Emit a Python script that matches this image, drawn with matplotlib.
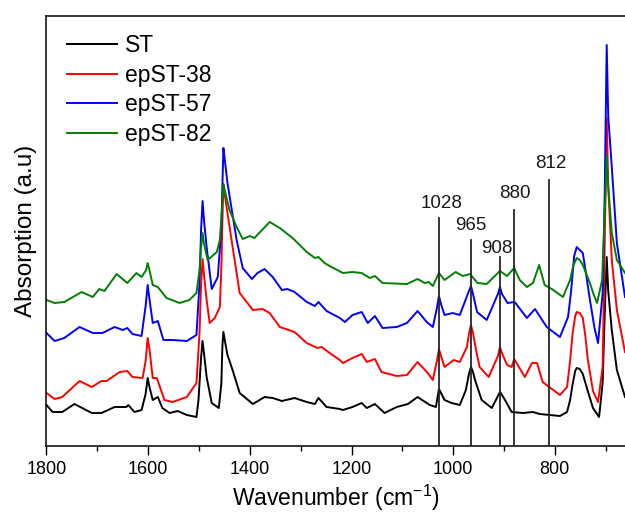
import matplotlib
matplotlib.use("Agg")
import matplotlib.pyplot as plt
from matplotlib.ticker import MultipleLocator

plt.rcParams['font.family'] = ['Liberation Sans', 'DejaVu Sans']
plt.rcParams['mathtext.fontset'] = 'custom'
plt.rcParams['mathtext.rm'] = 'Liberation Sans'
plt.rcParams['mathtext.it'] = 'Liberation Sans:italic'

# ---- data: (wavenumber cm-1, absorption a.u.) ----
st = [(1800, 0.41), (1788, 0.34), (1769, 0.34), (1745, 0.42), (1711, 0.33), (1692, 0.33), (1666, 0.39),
      (1643, 0.39), (1639, 0.41), (1627, 0.34), (1613, 0.36), (1605, 0.52), (1601, 0.68), (1597, 0.58),
      (1591, 0.46), (1581, 0.49), (1572, 0.38), (1558, 0.33), (1542, 0.35), (1524, 0.31), (1505, 0.29),
      (1501, 0.46), (1496, 0.88), (1493, 1.05), (1490, 0.92), (1485, 0.69), (1475, 0.43), (1461, 0.38),
      (1456, 0.63), (1454, 1.00), (1452, 1.14), (1449, 1.05), (1444, 0.91), (1434, 0.76), (1420, 0.53),
      (1394, 0.42), (1371, 0.49), (1355, 0.48), (1337, 0.45), (1312, 0.48), (1288, 0.44), (1272, 0.42),
      (1265, 0.48), (1249, 0.39), (1223, 0.37), (1217, 0.36), (1198, 0.39), (1180, 0.43), (1170, 0.38),
      (1154, 0.42), (1135, 0.33), (1111, 0.39), (1089, 0.42), (1070, 0.49), (1046, 0.41), (1034, 0.39),
      (1028, 0.57), (1017, 0.46), (1003, 0.43), (987, 0.41), (975, 0.56), (969, 0.72), (965, 0.79),
      (961, 0.74), (957, 0.66), (944, 0.46), (924, 0.38), (912, 0.50), (908, 0.54), (904, 0.51),
      (898, 0.46), (885, 0.34), (863, 0.33), (843, 0.34), (830, 0.32), (790, 0.30), (776, 0.34),
      (770, 0.46), (765, 0.62), (760, 0.75), (757, 0.78), (751, 0.77), (745, 0.72), (737, 0.58),
      (725, 0.38), (713, 0.29), (706, 0.63), (702, 1.30), (698, 1.89), (695, 1.55), (688, 1.16),
      (678, 0.76), (662, 0.49)]

ep38 = [(1800, 0.53), (1784, 0.47), (1769, 0.49), (1735, 0.65), (1711, 0.59), (1692, 0.65), (1682, 0.65),
        (1656, 0.74), (1641, 0.75), (1631, 0.69), (1611, 0.68), (1605, 0.85), (1601, 1.08), (1597, 0.95),
        (1591, 0.68), (1583, 0.68), (1568, 0.46), (1552, 0.44), (1524, 0.49), (1505, 0.63), (1499, 1.13),
        (1496, 1.60), (1493, 1.87), (1490, 1.70), (1485, 1.46), (1479, 1.23), (1469, 1.28), (1459, 1.39),
        (1456, 1.79), (1454, 2.25), (1452, 2.62), (1449, 2.50), (1444, 2.33), (1430, 1.86), (1420, 1.53),
        (1394, 1.36), (1375, 1.37), (1361, 1.33), (1341, 1.19), (1312, 1.14), (1288, 1.03), (1267, 0.98),
        (1259, 0.99), (1243, 0.93), (1223, 0.86), (1217, 0.83), (1198, 0.88), (1180, 0.92), (1170, 0.84),
        (1154, 0.87), (1141, 0.74), (1111, 0.70), (1091, 0.71), (1070, 0.84), (1050, 0.73), (1040, 0.66),
        (1032, 0.85), (1028, 0.97), (1024, 0.90), (1017, 0.79), (999, 0.86), (987, 0.84), (973, 0.99),
        (969, 1.12), (965, 1.21), (961, 1.13), (955, 0.96), (948, 0.79), (930, 0.69), (912, 0.90),
        (908, 0.99), (904, 0.93), (894, 0.81), (885, 0.79), (880, 0.87), (859, 0.69), (845, 0.83),
        (835, 0.83), (824, 0.64), (790, 0.51), (776, 0.59), (770, 0.85), (765, 1.13), (760, 1.30),
        (757, 1.34), (751, 1.33), (745, 1.28), (740, 1.10), (735, 0.86), (725, 0.55), (715, 0.44),
        (706, 0.79), (702, 2.00), (698, 3.28), (695, 2.60), (688, 1.86), (678, 1.36), (662, 0.94)]

ep57 = [(1800, 1.13), (1784, 1.05), (1765, 1.08), (1735, 1.19), (1709, 1.13), (1690, 1.13), (1666, 1.19),
        (1650, 1.16), (1641, 1.18), (1631, 1.12), (1613, 1.10), (1605, 1.40), (1601, 1.61), (1597, 1.45),
        (1591, 1.23), (1581, 1.25), (1570, 1.06), (1552, 1.06), (1524, 1.05), (1505, 1.11), (1499, 1.63),
        (1496, 2.15), (1493, 2.45), (1490, 2.25), (1485, 1.99), (1475, 1.57), (1463, 1.69), (1456, 2.19),
        (1454, 2.60), (1452, 2.98), (1449, 2.85), (1444, 2.63), (1426, 2.06), (1414, 1.78), (1396, 1.67),
        (1385, 1.73), (1371, 1.77), (1355, 1.69), (1337, 1.56), (1326, 1.57), (1312, 1.54), (1288, 1.44),
        (1272, 1.40), (1265, 1.44), (1249, 1.35), (1223, 1.28), (1213, 1.24), (1198, 1.31), (1180, 1.34),
        (1168, 1.23), (1154, 1.30), (1139, 1.18), (1111, 1.19), (1091, 1.23), (1070, 1.35), (1052, 1.24),
        (1040, 1.19), (1032, 1.38), (1028, 1.50), (1024, 1.42), (1017, 1.31), (1001, 1.33), (987, 1.31),
        (969, 1.55), (965, 1.60), (961, 1.52), (953, 1.34), (934, 1.26), (912, 1.52), (908, 1.59),
        (904, 1.52), (893, 1.43), (879, 1.44), (855, 1.28), (839, 1.37), (816, 1.19), (790, 1.09),
        (774, 1.29), (768, 1.55), (762, 1.90), (757, 1.99), (751, 1.96), (745, 1.93), (738, 1.70),
        (731, 1.46), (722, 1.18), (715, 1.03), (706, 1.53), (702, 2.50), (698, 4.01), (695, 3.30),
        (688, 2.79), (678, 2.03), (662, 1.49)]

ep82 = [(1800, 1.46), (1784, 1.43), (1765, 1.44), (1731, 1.54), (1709, 1.49), (1696, 1.57), (1686, 1.55),
        (1662, 1.72), (1641, 1.63), (1623, 1.73), (1613, 1.69), (1604, 1.76), (1601, 1.83), (1597, 1.75),
        (1591, 1.61), (1581, 1.59), (1564, 1.48), (1538, 1.43), (1519, 1.46), (1505, 1.53), (1499, 1.76),
        (1496, 1.98), (1493, 2.13), (1490, 2.02), (1483, 1.86), (1465, 1.94), (1459, 2.06), (1455, 2.35),
        (1452, 2.61), (1449, 2.55), (1440, 2.36), (1426, 2.19), (1414, 2.07), (1400, 2.10), (1391, 2.08),
        (1361, 2.24), (1341, 2.18), (1316, 2.08), (1288, 1.94), (1272, 1.88), (1265, 1.89), (1253, 1.83),
        (1243, 1.80), (1217, 1.73), (1198, 1.74), (1180, 1.73), (1164, 1.68), (1154, 1.70), (1139, 1.63),
        (1091, 1.62), (1070, 1.67), (1056, 1.63), (1048, 1.64), (1040, 1.60), (1028, 1.73), (1017, 1.66),
        (995, 1.74), (981, 1.70), (967, 1.72), (952, 1.63), (934, 1.62), (908, 1.75), (894, 1.70),
        (880, 1.78), (869, 1.66), (855, 1.59), (843, 1.63), (831, 1.81), (820, 1.61), (806, 1.57),
        (784, 1.49), (770, 1.66), (764, 1.80), (757, 1.88), (751, 1.86), (745, 1.81), (738, 1.72),
        (731, 1.63), (724, 1.52), (717, 1.43), (707, 1.66), (702, 2.30), (698, 2.91), (695, 2.60),
        (688, 2.13), (678, 1.86), (662, 1.73)]

series_names = ['ST', 'epST-38', 'epST-57', 'epST-82']
series_colors = ['black', 'red', 'blue', 'green']

marker_wn = [1028, 965, 908, 880, 812]
marker_top = [2.28, 2.06, 1.89, 2.36, 2.66]
marker_label_wn = [1023, 966, 915, 879, 808]
marker_label_y = [2.38, 2.16, 1.93, 2.48, 2.78]

xticks_major = [1800, 1600, 1400, 1200, 1000, 800]

# ---- figure ----
fig = plt.figure(figsize=(6.25, 5.13), dpi=100)
ax = fig.add_axes([0.0744, 0.1306, 0.9256, 0.8382])

for data, name, col in zip([st, ep38, ep57, ep82], series_names, series_colors):
    wn = [p[0] for p in data]
    ab = [p[1] for p in data]
    ax.plot(wn, ab, color=col, lw=1.4, label=name, solid_joinstyle='round')

for wn, top, lwn, ly in zip(marker_wn, marker_top, marker_label_wn, marker_label_y):
    ax.plot([wn, wn], [0, top], color='#262626', lw=1.3, zorder=5)
    ax.text(lwn, ly, str(wn), ha='center', va='baseline', fontsize=13.5, color='#1a1a1a')

ax.set_xlim(1800, 662)
ax.set_ylim(0, 4.30)
ax.set_xticks(xticks_major)
ax.xaxis.set_minor_locator(MultipleLocator(100))
ax.set_yticks([])
ax.tick_params(axis='x', which='major', direction='out', length=6.5, width=1.0, labelsize=13, pad=4)
ax.tick_params(axis='x', which='minor', direction='out', length=3.5, width=1.0)
for s in ['left', 'bottom', 'top']:
    ax.spines[s].set_linewidth(1.1)
ax.spines['right'].set_visible(False)

ax.set_xlabel('Wavenumber (cm$^{-1}$)', fontsize=16.5, labelpad=4)
ax.set_ylabel('Absorption (a.u)', fontsize=17.5, labelpad=7)

ax.legend(loc='upper left', bbox_to_anchor=(0.035, 0.958), frameon=False, fontsize=16.5,
          handlelength=2.2, handletextpad=0.35, labelspacing=0.29, borderpad=0, borderaxespad=0)

fig.savefig('out.png', dpi=100)
